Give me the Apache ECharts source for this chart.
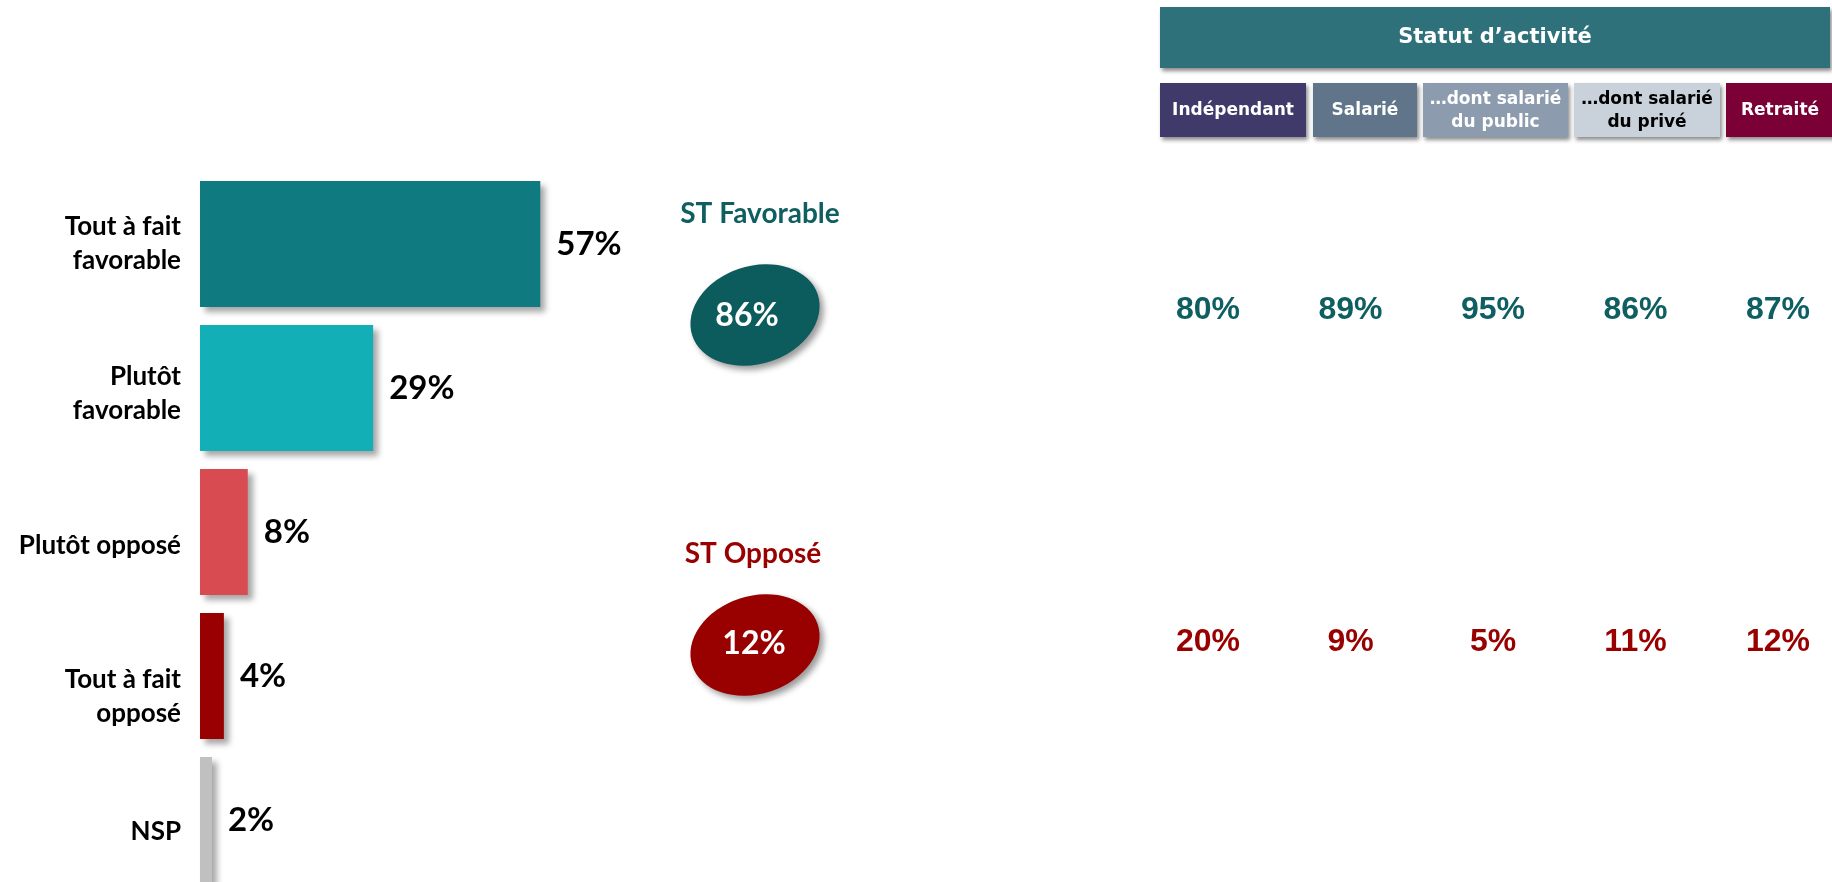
<!DOCTYPE html>
<html><head><meta charset="utf-8">
<script src="https://cdn.jsdelivr.net/npm/echarts@6/dist/echarts.min.js"></script>
<style>html,body{margin:0;padding:0;background:#fff}#c{width:1832px;height:882px}</style>
</head><body><div id="c"></div>
<script>
// ---- data ----
const categories = ['Tout à fait\nfavorable', 'Plutôt\nfavorable', 'Plutôt opposé', 'Tout à fait\nopposé', 'NSP'];
const values = [57, 29, 8, 4, 2];
const summaryLabels = ['ST Favorable', 'ST Opposé'];
const summaryValues = [86, 12];
const statusLabels = ['Indépendant', 'Salarié', '…dont salarié\ndu public', '…dont salarié\ndu privé', 'Retraité'];
const favorableByStatus = [80, 89, 95, 86, 87];
const opposedByStatus = [20, 9, 5, 11, 12];

// ---- styles ----
const barColors = ['#0F7A80', '#13AFB7', '#D84C51', '#990000', '#C0C0C0'];
const labelGap = [0, 12, 28, 42, 24];
const summaryColors = ['#0C5B5D', '#990000'];
const summaryTitleColors = ['#0F5F61', '#990000'];
const summaryLabelOffsets = [[-8, 1], [-1, -1]];
const headerBoxes = [[1160, 1306], [1313, 1417], [1423, 1568], [1574, 1720], [1726, 1834]];
const headerColors = ['#3F3A6A', '#60758A', '#8C9CAE', '#C9D2DB', '#7A0036'];
const headerTextColors = ['#fff', '#fff', '#fff', '#000', '#fff'];

const chart = echarts.init(document.getElementById('c'));
const shadow = {shadowBlur: 4, shadowOffsetX: 2, shadowOffsetY: 3, shadowColor: 'rgba(0,0,0,0.45)'};

const graphic = [
  {type: 'rect', shape: {x: 1160, y: 7, width: 670, height: 61}, style: Object.assign({fill: '#2E717A'}, shadow)},
  {type: 'text', x: 1495, y: 38, style: {text: 'Statut d’activité', fill: '#fff', font: 'bold 21px "DejaVu Sans"', align: 'center', verticalAlign: 'middle'}}
];
headerBoxes.forEach((b, i) => {
  graphic.push({type: 'rect', shape: {x: b[0], y: 83, width: b[1] - b[0], height: 54}, style: Object.assign({fill: headerColors[i]}, shadow)});
  graphic.push({type: 'text', x: (b[0] + b[1]) / 2, y: 111, style: {text: statusLabels[i], fill: headerTextColors[i], font: 'bold 17px "DejaVu Sans"', lineHeight: 23, align: 'center', verticalAlign: 'middle'}});
});
summaryLabels.forEach((t, i) => {
  graphic.push({type: 'text', x: [760, 753][i], y: [214, 554][i], style: {text: t, fill: summaryTitleColors[i], font: 'bold 28px Lato', align: 'center', verticalAlign: 'middle'}});
});

const rich = {};
labelGap.forEach((g, i) => { rich['g' + i] = {fontSize: 1, height: g, lineHeight: g}; });

chart.setOption({
  backgroundColor: '#fff',
  animation: false,
  graphic: graphic,
  grid: [
    {left: 200, top: 244, width: 597, height: 576},
    {left: 705, top: 315, width: 100, height: 330},
    {left: 1208, top: 310, width: 570, height: 332}
  ],
  xAxis: [
    {gridIndex: 0, type: 'value', min: 0, max: 100, show: false},
    {gridIndex: 1, type: 'category', data: ['Ensemble'], show: false},
    {gridIndex: 2, type: 'category', data: statusLabels, boundaryGap: false, show: false}
  ],
  yAxis: [
    {gridIndex: 0, type: 'category', inverse: true, boundaryGap: false, data: categories,
     axisLine: {show: false}, axisTick: {show: false}, splitLine: {show: false},
     axisLabel: {margin: 19, fontFamily: 'Lato', fontWeight: 'bold', fontSize: 26, lineHeight: 34, color: '#000', align: 'right',
       formatter: (v, i) => (labelGap[i] ? '{g' + i + '| }\n' : '') + v, rich: rich}},
    {gridIndex: 1, type: 'category', inverse: true, boundaryGap: false, data: summaryLabels, show: false},
    {gridIndex: 2, type: 'category', inverse: true, boundaryGap: false, data: summaryLabels, show: false}
  ],
  series: [
    {type: 'bar', xAxisIndex: 0, yAxisIndex: 0, barWidth: 126,
     data: values.map((v, i) => ({value: v, itemStyle: {color: barColors[i]}})),
     itemStyle: {shadowColor: 'rgba(0,0,0,0.35)', shadowBlur: 6, shadowOffsetX: 5, shadowOffsetY: 5},
     label: {show: true, position: 'right', distance: 16, formatter: '{c}%', fontFamily: 'Lato', fontWeight: 'bold', fontSize: 33, color: '#000'}},
    {type: 'scatter', xAxisIndex: 1, yAxisIndex: 1, symbol: 'circle', symbolSize: [132, 98], symbolRotate: 18,
     data: summaryValues.map((v, i) => ({value: [0, i, v], itemStyle: {color: summaryColors[i]}, label: {offset: summaryLabelOffsets[i]}})),
     itemStyle: {opacity: 1, shadowColor: 'rgba(0,0,0,0.4)', shadowBlur: 6, shadowOffsetX: 4, shadowOffsetY: 4},
     label: {show: true, position: 'inside', formatter: p => p.value[2] + '%', fontFamily: 'Lato', fontWeight: 'bold', fontSize: 32, color: '#fff'}},
    {type: 'scatter', xAxisIndex: 2, yAxisIndex: 2, symbolSize: 1, itemStyle: {color: 'rgba(0,0,0,0)', opacity: 1},
     data: favorableByStatus.map((v, i) => [i, 0, v]),
     label: {show: true, position: 'inside', formatter: p => p.value[2] + '%', fontFamily: 'Liberation Sans', fontWeight: 'bold', fontSize: 32, color: '#0E5E62'}},
    {type: 'scatter', xAxisIndex: 2, yAxisIndex: 2, symbolSize: 1, itemStyle: {color: 'rgba(0,0,0,0)', opacity: 1},
     data: opposedByStatus.map((v, i) => [i, 1, v]),
     label: {show: true, position: 'inside', formatter: p => p.value[2] + '%', fontFamily: 'Liberation Sans', fontWeight: 'bold', fontSize: 32, color: '#990000'}}
  ]
});
</script></body></html>
